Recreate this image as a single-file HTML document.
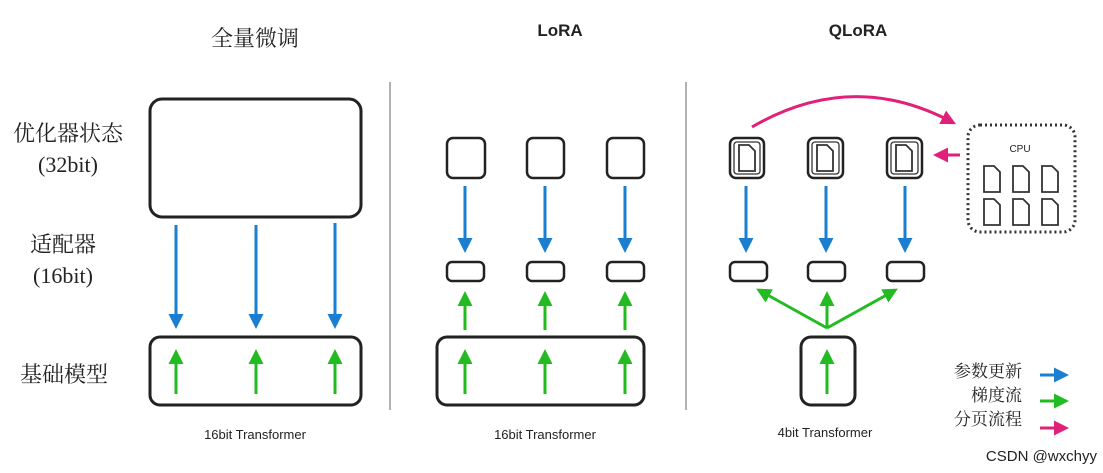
<!DOCTYPE html>
<html><head><meta charset="utf-8"><style>
html,body{margin:0;padding:0;background:#fff;}
svg{display:block;}
.cn{font-family:"Liberation Serif","Noto Serif CJK SC",serif;fill:#222;}
.sans{font-family:"Liberation Sans","Noto Sans CJK SC",sans-serif;fill:#222;}
</style></head><body>
<svg width="1103" height="473" viewBox="0 0 1103 473" xmlns="http://www.w3.org/2000/svg">
<defs>
<marker id="mb" markerWidth="5" markerHeight="5" refX="2" refY="2.5" orient="auto" markerUnits="strokeWidth"><path d="M0,0 L5,2.5 L0,5 z" fill="#1a7fd0"/></marker>
<marker id="mg" markerWidth="5" markerHeight="5" refX="2" refY="2.5" orient="auto" markerUnits="strokeWidth"><path d="M0,0 L5,2.5 L0,5 z" fill="#22bb22"/></marker>
<marker id="mp" markerWidth="5" markerHeight="5" refX="2" refY="2.5" orient="auto" markerUnits="strokeWidth"><path d="M0,0 L5,2.5 L0,5 z" fill="#e0217a"/></marker>
<g id="doc"><path d="M-8,-13 h10 l6,6 v20 h-16 z" fill="#fff" stroke="#333" stroke-width="1.8"/></g>
</defs>
<text x="255" y="46" class="cn" font-size="22" text-anchor="middle">全量微调</text>
<text x="560" y="36" class="sans" font-size="17" font-weight="bold" text-anchor="middle">LoRA</text>
<text x="858" y="36" class="sans" font-size="17" font-weight="bold" text-anchor="middle">QLoRA</text>
<text x="68" y="141" class="cn" font-size="22" text-anchor="middle">优化器状态</text>
<text x="68" y="172" class="cn" font-size="22" text-anchor="middle">(32bit)</text>
<text x="63" y="252" class="cn" font-size="22" text-anchor="middle">适配器</text>
<text x="63" y="283" class="cn" font-size="22" text-anchor="middle">(16bit)</text>
<text x="64" y="382" class="cn" font-size="22" text-anchor="middle">基础模型</text>
<line x1="390" y1="82" x2="390" y2="410" stroke="#999" stroke-width="1.5"/>
<line x1="686" y1="82" x2="686" y2="410" stroke="#999" stroke-width="1.5"/>
<!-- left -->
<rect x="150" y="99" width="211" height="118" rx="12" fill="#fff" stroke="#222" stroke-width="3"/>
<rect x="150" y="337" width="211" height="68" rx="10" fill="#fff" stroke="#222" stroke-width="3"/>
<g stroke="#1a7fd0" stroke-width="3" marker-end="url(#mb)">
<line x1="176" y1="225" x2="176" y2="320"/><line x1="256" y1="225" x2="256" y2="320"/><line x1="335" y1="223" x2="335" y2="320"/></g>
<g stroke="#22bb22" stroke-width="3" marker-end="url(#mg)">
<line x1="176" y1="394" x2="176" y2="358"/><line x1="256" y1="394" x2="256" y2="358"/><line x1="335" y1="394" x2="335" y2="358"/></g>
<text x="255" y="439" class="sans" font-size="13" text-anchor="middle">16bit Transformer</text>
<!-- LoRA -->
<g fill="#fff" stroke="#222" stroke-width="2.5">
<rect x="447" y="138" width="38" height="40" rx="6"/><rect x="527" y="138" width="37" height="40" rx="6"/><rect x="607" y="138" width="37" height="40" rx="6"/>
<rect x="447" y="262" width="37" height="19" rx="5"/><rect x="527" y="262" width="37" height="19" rx="5"/><rect x="607" y="262" width="37" height="19" rx="5"/>
<rect x="437" y="337" width="207" height="68" rx="10" stroke-width="3"/></g>
<g stroke="#1a7fd0" stroke-width="3" marker-end="url(#mb)">
<line x1="465" y1="186" x2="465" y2="244"/><line x1="545" y1="186" x2="545" y2="244"/><line x1="625" y1="186" x2="625" y2="244"/></g>
<g stroke="#22bb22" stroke-width="3" marker-end="url(#mg)">
<line x1="465" y1="330" x2="465" y2="300"/><line x1="545" y1="330" x2="545" y2="300"/><line x1="625" y1="330" x2="625" y2="300"/>
<line x1="465" y1="394" x2="465" y2="358"/><line x1="545" y1="394" x2="545" y2="358"/><line x1="625" y1="394" x2="625" y2="358"/></g>
<text x="545" y="439" class="sans" font-size="13" text-anchor="middle">16bit Transformer</text>
<!-- QLoRA -->
<g fill="#fff" stroke="#222" stroke-width="2.5">
<rect x="730" y="138" width="34" height="40" rx="6"/><rect x="808" y="138" width="35" height="40" rx="6"/><rect x="887" y="138" width="35" height="40" rx="6"/>
<rect x="730" y="262" width="37" height="19" rx="5"/><rect x="808" y="262" width="37" height="19" rx="5"/><rect x="887" y="262" width="37" height="19" rx="5"/>
<rect x="801" y="337" width="54" height="68" rx="10" stroke-width="3"/></g>
<g fill="none" stroke="#333" stroke-width="1.3">
<rect x="734" y="142" width="26" height="32" rx="3"/><rect x="812" y="142" width="27" height="32" rx="3"/><rect x="891" y="142" width="27" height="32" rx="3"/></g>
<use href="#doc" x="747" y="158"/><use href="#doc" x="825" y="158"/><use href="#doc" x="904" y="158"/>
<g stroke="#1a7fd0" stroke-width="3" marker-end="url(#mb)">
<line x1="746" y1="186" x2="746" y2="244"/><line x1="826" y1="186" x2="826" y2="244"/><line x1="905" y1="186" x2="905" y2="244"/></g>
<g stroke="#22bb22" stroke-width="3" marker-end="url(#mg)">
<line x1="827" y1="328" x2="764" y2="293"/><line x1="827" y1="328" x2="827" y2="300"/><line x1="827" y1="328" x2="890" y2="293"/>
<line x1="827" y1="394" x2="827" y2="358"/></g>
<text x="825" y="437" class="sans" font-size="13" text-anchor="middle">4bit Transformer</text>
<rect x="968" y="125" width="107" height="107" rx="12" fill="none" stroke="#333" stroke-width="3" stroke-dasharray="2,3"/>
<text x="1020" y="152" class="sans" font-size="10" text-anchor="middle" fill="#555">CPU</text>
<g transform="translate(0,0)">
<use href="#doc" x="992" y="179"/><use href="#doc" x="1021" y="179"/><use href="#doc" x="1050" y="179"/>
<use href="#doc" x="992" y="212"/><use href="#doc" x="1021" y="212"/><use href="#doc" x="1050" y="212"/></g>
<path d="M752,127 Q850,70 948,120" fill="none" stroke="#e0217a" stroke-width="3" marker-end="url(#mp)"/>
<line x1="960" y1="155" x2="942" y2="155" stroke="#e0217a" stroke-width="3" marker-end="url(#mp)"/>
<!-- legend -->
<text x="1022" y="377" class="cn" font-size="17" text-anchor="end">参数更新</text>
<text x="1022" y="401" class="cn" font-size="17" text-anchor="end">梯度流</text>
<text x="1022" y="425" class="cn" font-size="17" text-anchor="end">分页流程</text>
<line x1="1040" y1="375" x2="1060" y2="375" stroke="#1a7fd0" stroke-width="3" marker-end="url(#mb)"/>
<line x1="1040" y1="401" x2="1060" y2="401" stroke="#22bb22" stroke-width="3" marker-end="url(#mg)"/>
<line x1="1040" y1="428" x2="1060" y2="428" stroke="#e0217a" stroke-width="3" marker-end="url(#mp)"/>
<text x="1097" y="461" class="sans" font-size="15" text-anchor="end" fill="#aaa">CSDN @wxchyy</text>
</svg>
</body></html>
